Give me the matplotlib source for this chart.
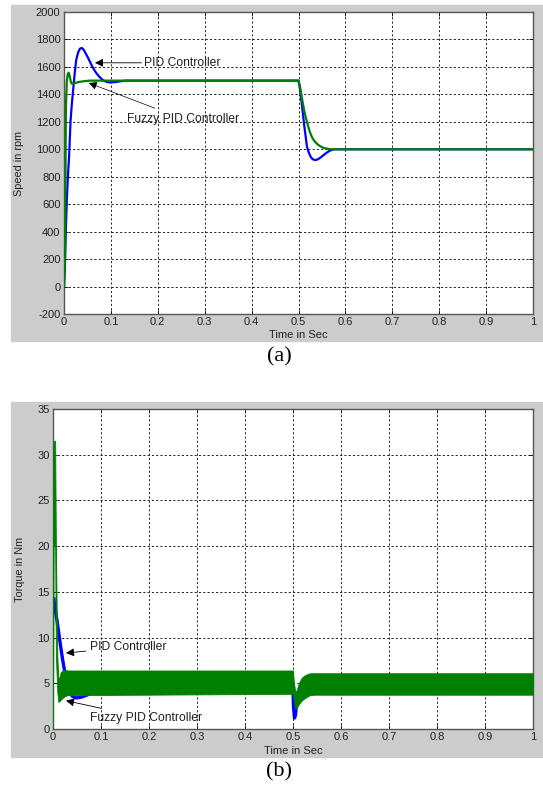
import matplotlib
matplotlib.use("Agg")
import matplotlib.pyplot as plt
from matplotlib.patches import Rectangle

plt.rcParams['font.family'] = ['Liberation Sans', 'DejaVu Sans']
plt.rcParams['axes.unicode_minus'] = False

# =============================================================================
# DATA
# =============================================================================

# --- (a) speed response, rpm ---
t_pid_speed = [0.000, 0.002, 0.004, 0.006, 0.008, 0.011, 0.014, 0.017, 0.020, 0.023,
               0.026, 0.030, 0.034, 0.038, 0.042, 0.046, 0.050, 0.055, 0.060, 0.065,
               0.070, 0.075, 0.080, 0.085, 0.090, 0.095, 0.100, 0.110, 0.120, 0.130,
               0.500, 0.503, 0.506, 0.509, 0.512, 0.515, 0.518, 0.522, 0.526, 0.530,
               0.535, 0.540, 0.545, 0.550, 0.555, 0.560, 0.565, 0.570, 0.575, 0.580, 1.000]
pid_speed = [0, 150, 420, 630, 780, 960, 1210, 1340, 1450, 1560,
             1650, 1705, 1733, 1738, 1725, 1700, 1675, 1640, 1605, 1575,
             1550, 1530, 1512, 1500, 1492, 1488, 1487, 1490, 1495, 1500,
             1500, 1440, 1360, 1270, 1180, 1100, 1020, 975, 945, 928,
             921, 925, 935, 948, 962, 975, 986, 994, 999, 1000, 1000]

t_fuzzy_speed = [0.000, 0.002, 0.003, 0.004, 0.006, 0.008, 0.010, 0.012, 0.014, 0.016,
                 0.018, 0.022, 0.028, 0.035, 0.045, 0.055, 0.500, 0.503, 0.506, 0.509,
                 0.512, 0.515, 0.518, 0.522, 0.526, 0.530, 0.535, 0.540, 0.545, 0.550,
                 0.555, 0.560, 0.565, 0.570, 1.000]
fuzzy_speed = [0, 180, 700, 1300, 1500, 1548, 1558, 1535, 1500, 1480,
               1476, 1480, 1487, 1492, 1497, 1500, 1500, 1460, 1400, 1340,
               1285, 1240, 1200, 1150, 1110, 1080, 1055, 1038, 1025, 1015,
               1009, 1005, 1002, 1000, 1000]

# --- (b) torque response, Nm ---
t_pid_torque = [0.002, 0.004, 0.008, 0.012, 0.016, 0.020, 0.024, 0.028, 0.032, 0.036,
                0.040, 0.045, 0.050, 0.055, 0.060, 0.065, 0.070, 0.075, 0.080, 0.085,
                0.500, 0.501, 0.503, 0.505, 0.507, 0.510, 0.515, 1.000]
pid_torque = [14.2, 13.2, 12.0, 10.5, 9.0, 7.6, 6.4, 5.2, 4.4, 3.9,
              3.6, 3.45, 3.4, 3.45, 3.5, 3.6, 3.7, 3.8, 3.9, 4.6,
              4.6, 2.5, 1.2, 1.5, 2.5, 3.5, 4.6, 4.6]

# fuzzy PID torque ripples fast: kept as upper / lower envelope of the band
t_fuzzy_torque = [0.000, 0.001, 0.0045, 0.006, 0.009, 0.011, 0.013, 0.016, 0.020, 0.025,
                  0.030, 0.500, 0.502, 0.505, 0.508, 0.512, 0.518, 0.525, 0.535, 0.545, 1.000]
fuzzy_torque_hi = [0.0, 31.5, 31.5, 20.0, 8.0, 5.5, 5.6, 6.2, 6.4, 6.5,
                   6.4, 6.4, 5.0, 4.0, 4.3, 5.0, 5.6, 5.9, 6.1, 6.1, 6.1]
fuzzy_torque_lo = [0.0, 20.0, 20.0, 8.0, 4.0, 3.0, 3.0, 3.2, 3.4, 3.6,
                   3.7, 3.85, 3.0, 2.2, 2.3, 2.7, 3.1, 3.4, 3.7, 3.75, 3.75]

x_ticks = [0, 0.1, 0.2, 0.3, 0.4, 0.5, 0.6, 0.7, 0.8, 0.9, 1]
x_tick_labels = ['0', '0.1', '0.2', '0.3', '0.4', '0.5', '0.6', '0.7', '0.8', '0.9', '1']
speed_ticks = list(range(-200, 2001, 200))
torque_ticks = [0, 5, 10, 15, 20, 25, 30, 35]

BLUE = '#0000ff'
GREEN = '#008000'
PANEL_GRAY = '#cccccc'
NOTE_SIZE = 8.7


def style_matlab_axes(ax, yticks, ylabel, ylabel_x):
    """Gives an axes the look of an old MATLAB figure window."""
    ax.set_xlim(0, 1)
    ax.set_xticks(x_ticks)
    ax.set_xticklabels(x_tick_labels)
    ax.set_yticks(yticks)
    ax.set_ylim(yticks[0], yticks[-1])
    ax.grid(True, color='#222222', linestyle=(0, (2.2, 2.2)), linewidth=0.7)
    ax.tick_params(direction='in', length=3, width=0.6, labelsize=8,
                   labelcolor='#222222', pad=2.5, top=True, right=True)
    for side in ax.spines.values():
        side.set_color('#555555')
        side.set_linewidth(1.0)

    ax.set_xlabel('Time in Sec', fontsize=8, color='#222222')
    ax.set_ylabel(ylabel, fontsize=7.8, color='#222222')
    ax.xaxis.set_label_coords(0.5, -0.07)
    ax.xaxis.label.set_va('center')
    ax.yaxis.set_label_coords(ylabel_x, 0.5)
    ax.yaxis.label.set_va('center')


fig = plt.figure(figsize=(5.43, 7.87), dpi=100, facecolor='white')

# gray MATLAB figure backgrounds, kept behind the axes
fig.patches.append(Rectangle((11 / 543, 1 - 341 / 787), 532 / 543, 336 / 787,
                             transform=fig.transFigure, color=PANEL_GRAY, zorder=-5))
fig.patches.append(Rectangle((11 / 543, 1 - 757 / 787), 532 / 543, 355 / 787,
                             transform=fig.transFigure, color=PANEL_GRAY, zorder=-5))

# ---------------------------------------------------------
# (a) SPEED
# ---------------------------------------------------------
ax_a = fig.add_axes([64 / 543, 1 - 314 / 787, 469 / 543, 302 / 787])
ax_a.plot(t_pid_speed, pid_speed, color=BLUE, linewidth=1.6, zorder=3)
ax_a.plot(t_fuzzy_speed, fuzzy_speed, color=GREEN, linewidth=1.6, zorder=4)
style_matlab_axes(ax_a, speed_ticks, 'Speed in rpm', -0.096)

ax_a.annotate('PID Controller', xy=(0.066, 1630), xytext=(0.171, 1630),
              fontsize=NOTE_SIZE, color='#222222', va='center', ha='left',
              arrowprops=dict(arrowstyle='-|>', color='black', lw=0.6,
                              mutation_scale=12, shrinkA=0, shrinkB=0))
ax_a.annotate('Fuzzy PID Controller', xy=(0.053, 1483), xytext=(0.134, 1221),
              fontsize=NOTE_SIZE, color='#222222', va='center', ha='left',
              arrowprops=dict(arrowstyle='-|>', color='black', lw=0.5,
                              mutation_scale=12, shrinkA=4, shrinkB=0))

fig.text(279 / 543, 1 - 357 / 787, '(a)', family='Liberation Serif',
         fontsize=16, ha='center', va='center')

# ---------------------------------------------------------
# (b) TORQUE
# ---------------------------------------------------------
ax_b = fig.add_axes([53 / 543, 1 - 729 / 787, 480 / 543, 320 / 787])
ax_b.plot(t_pid_torque, pid_torque, color=BLUE, linewidth=2.4, zorder=3)
ax_b.fill_between(t_fuzzy_torque, fuzzy_torque_lo, fuzzy_torque_hi,
                  color=GREEN, linewidth=0.6, edgecolor=GREEN, zorder=4)
style_matlab_axes(ax_b, torque_ticks, 'Torque in Nm', -0.069)

ax_b.annotate('PID Controller', xy=(0.027, 8.3), xytext=(0.077, 9.0),
              fontsize=NOTE_SIZE, color='#222222', va='center', ha='left',
              arrowprops=dict(arrowstyle='-|>', color='black', lw=0.6,
                              mutation_scale=12, shrinkA=1, shrinkB=0))
ax_b.annotate('Fuzzy PID Controller', xy=(0.027, 3.1), xytext=(0.077, 1.2),
              fontsize=NOTE_SIZE, color='#222222', va='center', ha='left',
              arrowprops=dict(arrowstyle='-|>', color='black', lw=0.6,
                              mutation_scale=12, shrinkA=3, shrinkB=0))

fig.text(279 / 543, 1 - 772 / 787, '(b)', family='Liberation Serif',
         fontsize=16, ha='center', va='center')

fig.savefig('out.png', dpi=100, facecolor='white')
